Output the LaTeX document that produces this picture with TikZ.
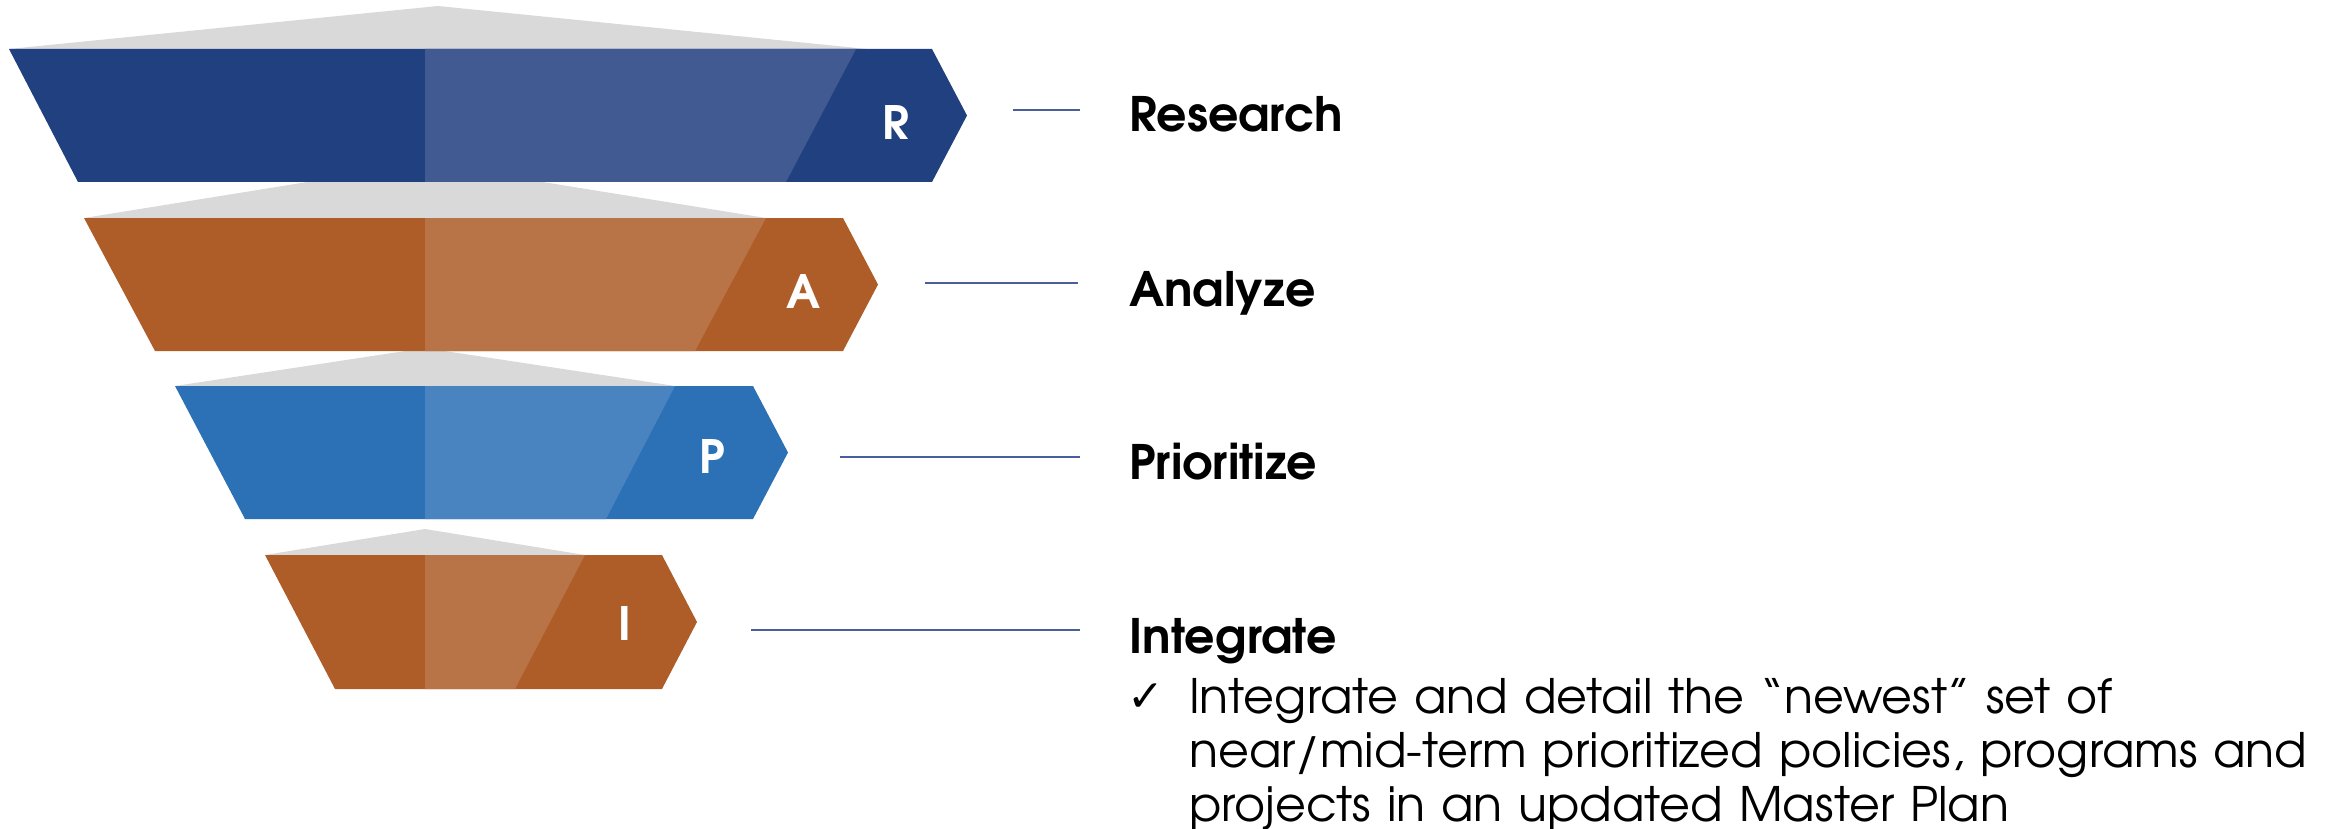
\documentclass[tikz,border=0pt]{standalone}
\usepackage{fontspec}
\setmainfont{TeX Gyre Adventor}
\newfontfamily\symfont{DejaVu Sans}
\definecolor{navyD}{HTML}{21407F}
\definecolor{navyL}{HTML}{415B92}
\definecolor{orgD}{HTML}{AE5D28}
\definecolor{orgL}{HTML}{B87446}
\definecolor{bluD}{HTML}{2C70B6}
\definecolor{bluL}{HTML}{4984C1}
\definecolor{grayf}{HTML}{D9D9D9}
\definecolor{connc}{HTML}{4A5E9C}
\tikzset{
  tri/.style={fill=grayf},
  letter/.style={text=white, inner sep=0pt, font=\bfseries\fontsize{46}{46}\selectfont},
  conn/.style={draw=connc, line width=2pt},
  head/.style={anchor=base west, inner sep=0pt, font=\bfseries\fontsize{47.5}{47.5}\selectfont},
  bodytext/.style={anchor=base west, inner sep=0pt, align=left, text width=1250pt, font=\fontsize{47.5}{54}\selectfont},
}
\begin{document}
\begin{tikzpicture}[x=1pt,y=-1pt]
\useasboundingbox (0,0) rectangle (2333,829);
% gray triangles (behind)
\fill[tri] (9,49) -- (438,6) -- (867,49) -- cycle;
\fill[tri] (84,218) -- (425,163) -- (766,218) -- cycle;
\fill[tri] (175,386) -- (425,348) -- (675,386) -- cycle;
\fill[tri] (265,555) -- (425,529) -- (585,555) -- cycle;
% bar R
\fill[navyD] (9,49) -- (932,49) -- (967,115.5) -- (932,182) -- (78,182) -- cycle;
\fill[navyL] (425,49) -- (856,49) -- (786,182) -- (425,182) -- cycle;
% bar A
\fill[orgD] (84,218) -- (843,218) -- (878,284.5) -- (843,351) -- (155,351) -- cycle;
\fill[orgL] (425,218) -- (766,218) -- (695,351) -- (425,351) -- cycle;
% bar P
\fill[bluD] (175,386) -- (753,386) -- (788,452.5) -- (753,519) -- (245,519) -- cycle;
\fill[bluL] (425,386) -- (675,386) -- (606,519) -- (425,519) -- cycle;
% bar I
\fill[orgD] (265,555) -- (662,555) -- (697,622) -- (662,689) -- (335,689) -- cycle;
\fill[orgL] (425,555) -- (585,555) -- (515,689) -- (425,689) -- cycle;
% letters
\node[letter] (lR) at (896,123) {R};
\node[letter] (lA) at (804,291.5) {A};
\node[letter] (lP) at (712,456.5) {P};
\node[letter] (lI) at (625,623.5) {I};
% connectors
\coordinate (sR) at (1013,110); \coordinate (eR) at (1080,110);
\coordinate (sA) at (925,283);  \coordinate (eA) at (1078,283);
\coordinate (sP) at (840,457);  \coordinate (eP) at (1080,457);
\coordinate (sI) at (751,630);  \coordinate (eI) at (1080,630);
\draw[conn] (sR) -- (eR);
\draw[conn] (sA) -- (eA);
\draw[conn] (sP) -- (eP);
\draw[conn] (sI) -- (eI);
% headings
\node[head] (hR) at (1129,132) {Research};
\node[head] (hA) at (1129,306) {Analyze};
\node[head] (hP) at (1129,479) {Prioritize};
\node[head] (hI) at (1129,653) {Integrate};
% bullet
\node[anchor=base west, inner sep=0pt, font=\symfont\fontsize{44}{44}\selectfont] (chk) at (1127,711) {✓};
\node[bodytext] (body) at (1189,713) {Integrate and detail the “newest” set of\\near/mid-term prioritized policies, programs and\\projects in an updated Master Plan};
\end{tikzpicture}
\end{document}
